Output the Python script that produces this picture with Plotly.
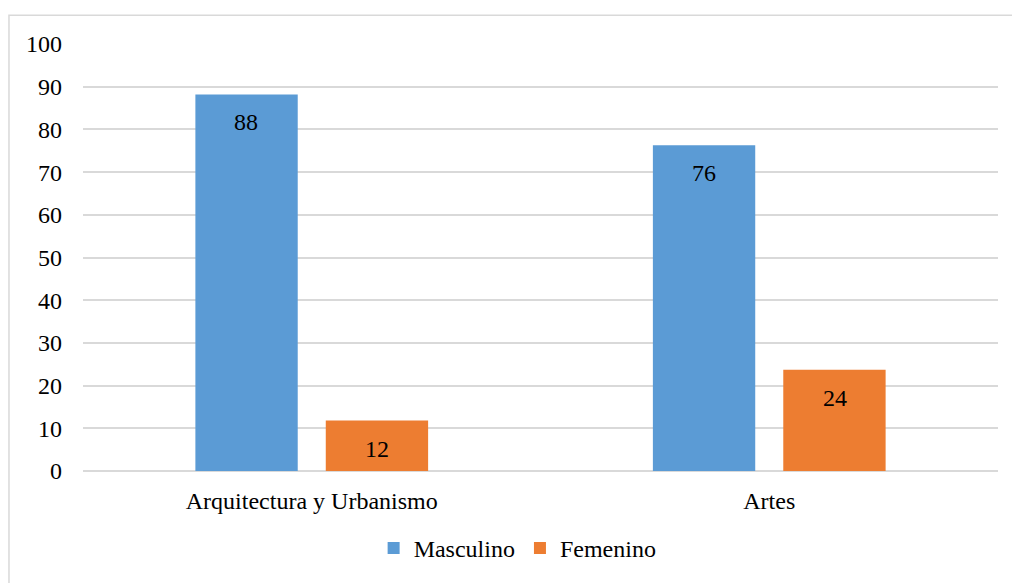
import plotly.graph_objects as go

categories = ["Arquitectura y Urbanismo", "Artes"]
masculino = [88.2, 76.3]
femenino = [11.8, 23.7]
masculino_labels = ["88", "76"]
femenino_labels = ["12", "24"]
y_ticks = [0, 10, 20, 30, 40, 50, 60, 70, 80, 90, 100]

FONT = "Liberation Serif"
fs = 24

fig = go.Figure()
fig.add_trace(go.Bar(
    name="Masculino", x=categories, y=masculino,
    marker=dict(color="#5B9BD5", line=dict(width=0)),
))
fig.add_trace(go.Bar(
    name="Femenino", x=categories, y=femenino,
    marker=dict(color="#ED7D31", line=dict(width=0)),
))

# value labels inside the top of each bar
for vals, labels, shift in [(masculino, masculino_labels, -65.5), (femenino, femenino_labels, 65.5)]:
    for c, v, t in zip(categories, vals, labels):
        fig.add_annotation(x=c, y=v, xref="x", yref="y", text=t, showarrow=False,
                           xanchor="center", yanchor="top", xshift=shift, yshift=-13,
                           font=dict(family=FONT, size=fs, color="#000000"))

fig.update_layout(
    width=1012, height=583,
    margin=dict(l=83, r=14, t=44, b=108, pad=0),
    paper_bgcolor="white", plot_bgcolor="white",
    barmode="group", bargap=0.43, bargroupgap=0.215,
    font=dict(family=FONT, size=fs, color="#000000"),
    showlegend=True,
    legend=dict(orientation="h", x=0.475, xanchor="center", y=-0.181, yanchor="middle",
                font=dict(family=FONT, size=fs, color="#000000"),
                itemwidth=30, tracegroupgap=0, bgcolor="rgba(0,0,0,0)"),
    xaxis=dict(showgrid=False, showline=False, zeroline=False, ticks="",
               tickfont=dict(family=FONT, size=fs, color="#000000"),
               ticklabelstandoff=13),
    yaxis=dict(range=[0, 100], tickvals=y_ticks, showgrid=True, gridcolor="#d9d9d9",
               gridwidth=1.5, zeroline=True, zerolinecolor="#d9d9d9", zerolinewidth=1.5,
               showline=False, ticks="", ticklabelstandoff=20,
               tickfont=dict(family=FONT, size=fs, color="#000000")),
    shapes=[dict(type="rect", xref="paper", yref="paper",
                 x0=-0.0809, x1=1.03, y0=-0.3, y1=1.0673,
                 line=dict(color="#d9d9d9", width=1.5), fillcolor="rgba(0,0,0,0)", layer="below")],
)

fig.write_html("out.html")
